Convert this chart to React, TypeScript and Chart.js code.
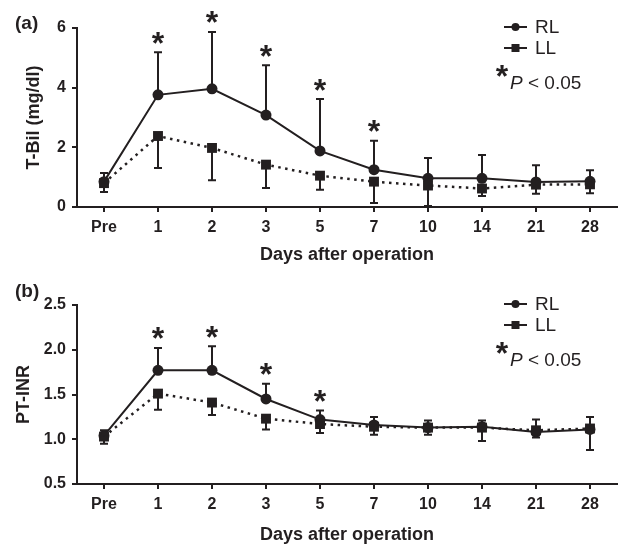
import React, { useEffect, useRef } from "react";
import { Chart, registerables } from "chart.js";

Chart.register(...registerables);

const categories = ["Pre", "1", "2", "3", "5", "7", "10", "14", "21", "28"];
const seriesNames = ["RL", "LL"];

// (a) T-Bil (mg/dl): means and one-sided SD (RL upward, LL downward)
const tbilRL = [0.85, 3.76, 3.96, 3.08, 1.88, 1.25, 0.96, 0.96, 0.84, 0.86];
const tbilRLsd = [0.29, 1.43, 1.91, 1.67, 1.74, 0.97, 0.68, 0.78, 0.56, 0.37];
const tbilLL = [0.8, 2.38, 1.98, 1.42, 1.05, 0.85, 0.72, 0.62, 0.75, 0.76];
const tbilLLsd = [0.3, 1.07, 1.08, 0.78, 0.47, 0.72, 0.69, 0.25, 0.31, 0.3];
const tbilSig = [1, 2, 3, 4, 5];
const tbilTicks = [0, 2, 4, 6];

// (b) PT-INR
const inrRL = [1.04, 1.77, 1.77, 1.45, 1.22, 1.16, 1.13, 1.14, 1.08, 1.11];
const inrRLsd = [0.06, 0.25, 0.27, 0.17, 0.1, 0.09, 0.08, 0.07, 0.14, 0.14];
const inrLL = [1.03, 1.51, 1.41, 1.23, 1.17, 1.14, 1.13, 1.13, 1.1, 1.12];
const inrLLsd = [0.08, 0.18, 0.14, 0.12, 0.1, 0.09, 0.08, 0.15, 0.08, 0.24];
const inrSig = [1, 2, 3, 4];
const inrTicks = [0.5, 1.0, 1.5, 2.0, 2.5];

const FONT = '"Liberation Sans", Arial, Helvetica, sans-serif';
const INK = "#231f20";
const W = 619;
const H = 274;
const AREA_LEFT = 77;
const AREA_RIGHT = 617;

type Spec = {
  panel: string;
  yTitle: string;
  ticks: number[];
  decimals: number;
  rl: number[];
  rlSD: number[];
  ll: number[];
  llSD: number[];
  sig: number[];
  areaTop: number;
  areaBottom: number;
  yTitlePad: number;
  xTitlePad: number;
  panelBaseline: number;
};

const specA: Spec = {
  panel: "(a)",
  yTitle: "T-Bil (mg/dl)",
  ticks: tbilTicks,
  decimals: 0,
  rl: tbilRL,
  rlSD: tbilRLsd,
  ll: tbilLL,
  llSD: tbilLLsd,
  sig: tbilSig,
  areaTop: 28,
  areaBottom: 207,
  yTitlePad: 23,
  xTitlePad: 8,
  panelBaseline: 29,
};

const specB: Spec = {
  panel: "(b)",
  yTitle: "PT-INR",
  ticks: inrTicks,
  decimals: 1,
  rl: inrRL,
  rlSD: inrRLsd,
  ll: inrLL,
  llSD: inrLLsd,
  sig: inrSig,
  areaTop: 31,
  areaBottom: 210,
  yTitlePad: 13,
  xTitlePad: 2,
  panelBaseline: 23,
};

function overlay(spec: Spec) {
  return {
    id: "overlay",
    afterDatasetsDraw(chart: any) {
      const ctx = chart.ctx as CanvasRenderingContext2D;
      const xs = chart.scales.x;
      const ys = chart.scales.y;
      const top = chart.chartArea.top;
      ctx.save();
      ctx.strokeStyle = INK;
      ctx.fillStyle = INK;
      ctx.lineWidth = 2;
      ctx.setLineDash([]);
      // error bars
      const bars = [
        { m: spec.rl, sd: spec.rlSD, dir: 1 },
        { m: spec.ll, sd: spec.llSD, dir: -1 },
      ];
      for (const b of bars) {
        b.m.forEach((v, i) => {
          const px = xs.getPixelForValue(i);
          const y0 = ys.getPixelForValue(v);
          const y1 = ys.getPixelForValue(v + b.dir * b.sd[i]);
          ctx.beginPath();
          ctx.moveTo(px, y0);
          ctx.lineTo(px, y1);
          ctx.moveTo(px - 4, y1);
          ctx.lineTo(px + 4, y1);
          ctx.stroke();
        });
      }
      // significance asterisks
      ctx.font = `bold 32px ${FONT}`;
      ctx.textAlign = "center";
      ctx.textBaseline = "alphabetic";
      const m = ctx.measureText("*");
      const half = (m.actualBoundingBoxAscent - m.actualBoundingBoxDescent) / 2;
      spec.sig.forEach((i) => {
        const px = xs.getPixelForValue(i);
        const py = ys.getPixelForValue(spec.rl[i] + spec.rlSD[i]);
        ctx.fillText("*", px, py - 14.5 + half);
      });
      // panel label
      ctx.textAlign = "left";
      ctx.font = `bold 19px ${FONT}`;
      ctx.fillText(spec.panel, 15, spec.panelBaseline);
      // legend
      const lx0 = 504;
      const lx1 = 527;
      const mx = 515.5;
      const tx = 535;
      const rows = [top - 1, top + 20];
      rows.forEach((ry, k) => {
        ctx.beginPath();
        ctx.moveTo(lx0, ry);
        ctx.lineTo(lx1, ry);
        ctx.stroke();
        ctx.beginPath();
        if (k === 0) ctx.arc(mx, ry, 4, 0, Math.PI * 2);
        else ctx.rect(mx - 4, ry - 4, 8, 8);
        ctx.fill();
        ctx.font = `19px ${FONT}`;
        ctx.textBaseline = "middle";
        ctx.fillText(seriesNames[k], tx, ry + 1);
      });
      ctx.textBaseline = "alphabetic";
      ctx.font = `bold 32px ${FONT}`;
      ctx.textAlign = "center";
      ctx.fillText("*", 502, top + 43 + half);
      ctx.textAlign = "left";
      ctx.font = `italic 19px ${FONT}`;
      ctx.fillText("P", 510, top + 61);
      const pw = ctx.measureText("P").width;
      ctx.font = `19px ${FONT}`;
      ctx.fillText(" < 0.05", 510 + pw, top + 61);
      ctx.restore();
    },
  };
}

function Panel({ spec }: { spec: Spec }) {
  const ref = useRef<HTMLCanvasElement>(null);
  useEffect(() => {
    const tickFont = { family: FONT, size: 16, weight: "bold" as const };
    const titleFont = { family: FONT, size: 18, weight: "bold" as const };
    const chart = new Chart(ref.current as HTMLCanvasElement, {
      type: "line",
      data: {
        labels: categories,
        datasets: [
          {
            label: seriesNames[1],
            data: spec.ll,
            borderColor: INK,
            backgroundColor: INK,
            borderWidth: 2.5,
            borderDash: [2.5, 4.5],
            pointStyle: "rect",
            pointRadius: 7,
            pointBorderWidth: 0,
            tension: 0,
          },
          {
            label: seriesNames[0],
            data: spec.rl,
            borderColor: INK,
            backgroundColor: INK,
            borderWidth: 2,
            pointStyle: "circle",
            pointRadius: 5.5,
            pointBorderWidth: 0,
            tension: 0,
          },
        ],
      },
      options: {
        animation: false,
        responsive: false,
        events: [],
        layout: {
          autoPadding: false,
          padding: { top: spec.areaTop, right: W - AREA_RIGHT, left: 0, bottom: 0 },
        },
        plugins: { legend: { display: false }, tooltip: { enabled: false } },
        scales: {
          x: {
            type: "category",
            offset: true,
            grid: {
              offset: false,
              drawOnChartArea: false,
              drawTicks: true,
              tickLength: 5,
              color: INK,
              lineWidth: 2,
            },
            border: { display: true, color: INK, width: 2 },
            ticks: { color: INK, font: tickFont, padding: 6, maxRotation: 0, autoSkip: false },
            title: {
              display: true,
              text: "Days after operation",
              color: INK,
              font: titleFont,
              padding: { top: 0, bottom: spec.xTitlePad },
            },
            afterFit: (s: any) => {
              s.height = H - spec.areaBottom;
              s.paddingLeft = 0;
              s.paddingRight = 0;
            },
          },
          y: {
            min: spec.ticks[0],
            max: spec.ticks[spec.ticks.length - 1],
            grid: {
              drawOnChartArea: false,
              drawTicks: true,
              tickLength: 5,
              color: INK,
              lineWidth: 2,
            },
            border: { display: true, color: INK, width: 2 },
            ticks: {
              color: INK,
              font: tickFont,
              padding: 6,
              callback: (v: any) => Number(v).toFixed(spec.decimals),
            },
            afterBuildTicks: (s: any) => {
              s.ticks = spec.ticks.map((v) => ({ value: v }));
            },
            title: {
              display: true,
              text: spec.yTitle,
              color: INK,
              font: titleFont,
              padding: { top: spec.yTitlePad, bottom: 0 },
            },
            afterFit: (s: any) => {
              s.width = AREA_LEFT;
              s.paddingTop = 0;
              s.paddingBottom = 0;
            },
          },
        },
      },
      plugins: [overlay(spec)],
    });
    return () => chart.destroy();
  }, [spec]);
  return (
    <canvas
      ref={ref}
      width={W}
      height={H}
      style={{ display: "block", width: W, height: H }}
    />
  );
}

export default function App() {
  return (
    <div
      style={{
        position: "absolute",
        left: 0,
        top: 0,
        width: W,
        height: 548,
        background: "#fff",
        overflow: "hidden",
      }}
    >
      <Panel spec={specA} />
      <Panel spec={specB} />
    </div>
  );
}
